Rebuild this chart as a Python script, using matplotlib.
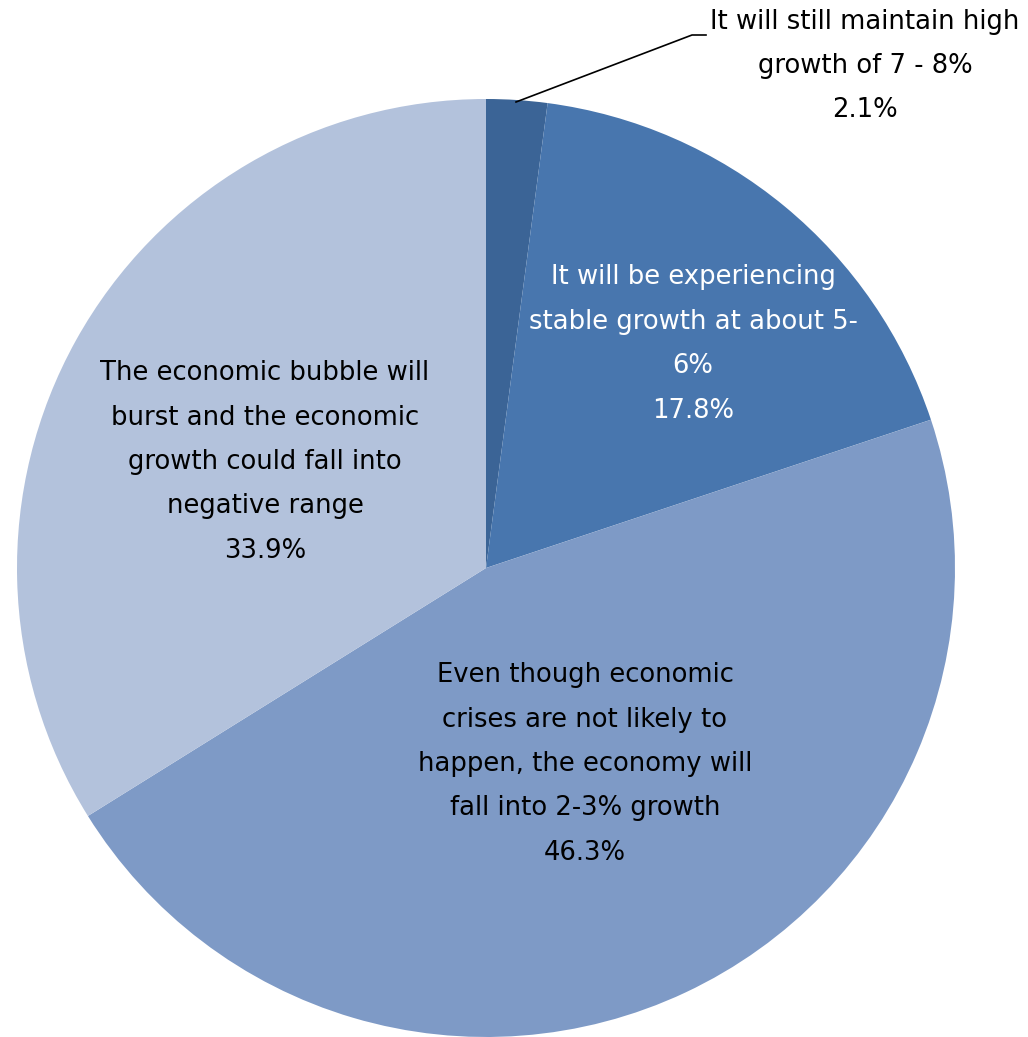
import matplotlib
matplotlib.use("Agg")
from matplotlib import pyplot as plt

labels = [
    "It will still maintain high\ngrowth of 7 - 8%",
    "It will be experiencing\nstable growth at about 5-\n6%",
    "Even though economic\ncrises are not likely to\nhappen, the economy will\nfall into 2-3% growth",
    "The economic bubble will\nburst and the economic\ngrowth could fall into\nnegative range",
]
shares = [2.1, 17.8, 46.3, 33.9]
colors = ["#3B6496", "#4876AE", "#7E9AC6", "#B3C2DC"]

W, H = 1028, 1037
fig = plt.figure(figsize=(W / 100, H / 100), dpi=100)
ax = fig.add_axes([0, 0, 1, 1])

cx, cy, r = 486, H - 568, 469
ax.pie(shares, colors=colors, startangle=90, counterclock=False,
       center=(cx, cy), radius=r, wedgeprops=dict(linewidth=0))
ax.set_xlim(0, W)
ax.set_ylim(0, H)
ax.set_aspect("equal")
ax.axis("off")

# label placement (pixel coords from top)
spots = [(865, 66, "black"), (693, 344, "white"), (585, 764, "black"), (265, 462, "black")]
for lab, val, (x, y, c) in zip(labels, shares, spots):
    ax.text(x, H - y, f"{lab}\n{val}%", ha="center", va="center",
            fontsize=18.6, color=c, linespacing=1.92, family="DejaVu Sans")

# leader line for the small slice
ax.plot([516, 692, 706], [H - 102, H - 35, H - 35], color="black", lw=1.2)

fig.savefig("out.png", dpi=100)
